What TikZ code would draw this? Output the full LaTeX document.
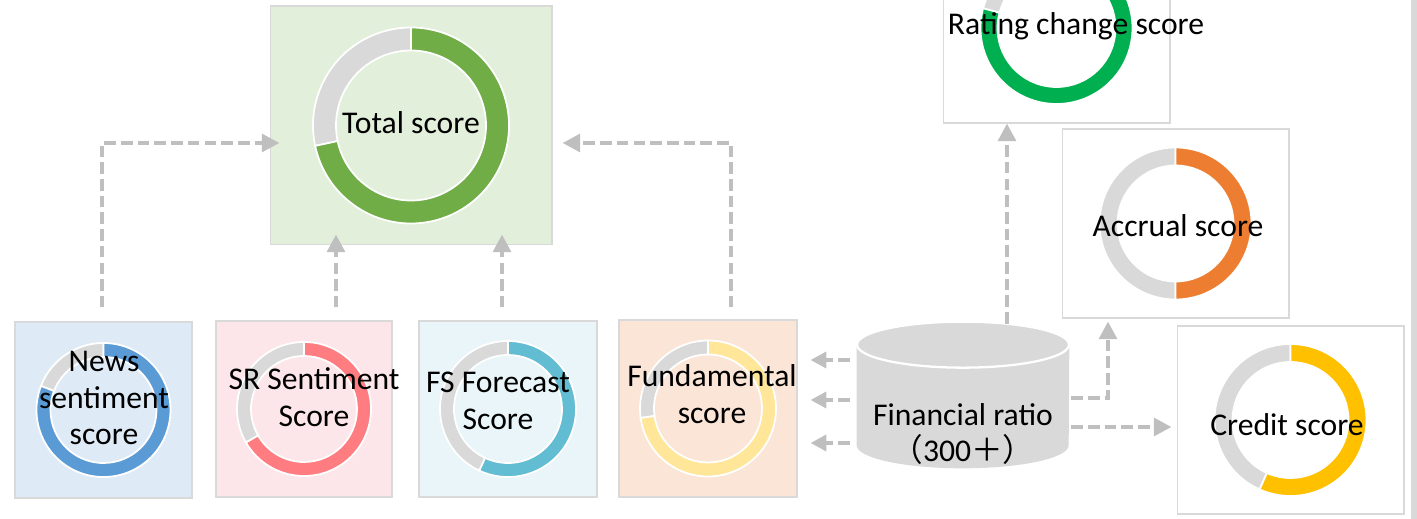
\documentclass[tikz,border=0pt]{standalone}
\usepackage{fontspec}
\setmainfont{Carlito}
\newfontfamily\cjk{Noto Sans CJK SC}
\usetikzlibrary{calc,arrows.meta,positioning}
\definecolor{ringgray}{HTML}{D9D9D9}
\definecolor{flowgray}{HTML}{BFBFBF}
\definecolor{boxline}{HTML}{D9D9D9}
\definecolor{totalbg}{HTML}{E2EFDA}
\definecolor{newsbg}{HTML}{DEEBF7}
\definecolor{srbg}{HTML}{FDE6E9}
\definecolor{fcstbg}{HTML}{E9F5F8}
\definecolor{fundbg}{HTML}{FBE5D6}
\definecolor{totalfg}{HTML}{70AD47}
\definecolor{newsfg}{HTML}{5B9BD5}
\definecolor{srfg}{HTML}{FF7C80}
\definecolor{fcstfg}{HTML}{62BDD3}
\definecolor{fundfg}{HTML}{FFE699}
\definecolor{ratingfg}{HTML}{00B050}
\definecolor{accrualfg}{HTML}{ED7D31}
\definecolor{creditfg}{HTML}{FFC000}
\def\ring[#1](#2)(#3:#4:#5:#6){\draw[#1] ($(#2)+(#3:#6)$) arc (#3:#4:#6) -- ($(#2)+(#4:#5)$) arc (#4:#3:#5) -- cycle;}
\tikzset{
  scorebox/.style={draw=boxline, line width=0.6pt, inner sep=0pt},
  seg/.style={draw=white, line width=1pt},
  lbl/.style={align=center, inner sep=0pt, font=\fontsize{18}{21}\selectfont},
  flow/.style={draw=flowgray, line width=2.3pt, dash pattern=on 6.6pt off 2.9pt, -{Triangle[length=10pt,width=10pt]}},
}

\begin{document}
\begin{tikzpicture}[x=0.02cm,y=0.02cm]
			%%%%% START %%%%%
			\useasboundingbox (0,0) rectangle (1417,-519);
			\clip (0,0) rectangle (1417,-519);
			
			\node[scorebox, fill=totalbg, minimum width=5.64cm, minimum height=4.78cm] (total) at (411,-125.5) {};
			\node[scorebox, fill=newsbg, minimum width=3.54cm, minimum height=3.52cm] (news) at (103.5,-410) {};
			\node[scorebox, fill=srbg, minimum width=3.52cm, minimum height=3.52cm] (srs) at (304,-409) {};
			\node[scorebox, fill=fcstbg, minimum width=3.56cm, minimum height=3.52cm] (fcst) at (508,-409) {};
			\node[scorebox, fill=fundbg, minimum width=3.56cm, minimum height=3.54cm] (fund) at (708,-408.5) {};
			\node[scorebox, fill=white, minimum width=4.54cm, minimum height=3.8cm] (rating) at (1056.5,-28) {};
			\node[scorebox, fill=white, minimum width=4.54cm, minimum height=3.78cm] (accrual) at (1175.5,-223.5) {};
			\node[scorebox, fill=white, minimum width=4.54cm, minimum height=3.76cm] (credit) at (1290.5,-420) {};
			
			\fill[ringgray] (1411,0) rectangle (1417,-519);
			
			\ring[seg, fill=ringgray](total)(90:192:75:98)
			\ring[seg, fill=totalfg](total)(192:450:75:98)
			\ring[seg, fill=ringgray](news)(90:159:53:67)
			\ring[seg, fill=newsfg](news)(159:450:53:67)
			\ring[seg, fill=ringgray](srs)(90:210:53:67)
			\ring[seg, fill=srfg](srs)(210:450:53:67)
			\ring[seg, fill=ringgray](fcst)(90:245:54:68)
			\ring[seg, fill=fcstfg](fcst)(245:450:54:68)
			\ring[seg, fill=ringgray](fund)(90:188:54:68)
			\ring[seg, fill=fundfg](fund)(188:450:54:68)
			\ring[seg, fill=ringgray](rating)(90:165:59:76)
			\ring[seg, fill=ratingfg](rating)(165:450:59:76)
			\ring[seg, fill=ringgray](accrual)(90:270:58:76)
			\ring[seg, fill=accrualfg](accrual)(270:450:58:76)
			\ring[seg, fill=ringgray](credit)(90:246:58:76)
			\ring[seg, fill=creditfg](credit)(246:450:58:76)
			
			\node[minimum width=4.24cm, minimum height=2.92cm, inner sep=0pt] (ratio) at (963,-395) {};
			\fill[ringgray] ($(ratio.north west)+(0,-23)$) -- ($(ratio.south west)+(0,23)$) arc (180:360:106 and 23) -- ($(ratio.north east)+(0,-23)$) -- cycle;
			\draw[seg, fill=ringgray, line width=1.3pt] ($(ratio.north)+(0,-23)$) ellipse (106 and 23);
			
			\node[lbl] (totallbl) at (411,-123) {Total score};
			\node[lbl] (newslbl) at (104,-398) {News\\sentiment\\score};
			\node[lbl] (srlbl) at (314,-397) {SR Sentiment\\Score};
			\node[lbl] (fcstlbl) at (498,-401) {FS Forecast\\Score};
			\node[lbl] (fundlbl) at (712,-394) {Fundamental\\score};
			\node[lbl] (ratinglbl) at (1076,-26) {Rating change score};
			\node[lbl] (accruallbl) at (1178,-226) {Accrual score};
			\node[lbl] (creditlbl) at (1287,-425) {Credit score};
			\node[lbl] (ratiolbl) at (963,-434) {Financial ratio\\{\cjk （}300{\cjk ＋）}};
			
			\coordinate (totl) at ([xshift=0.2cm,yshift=-0.35cm]total.west);
			\coordinate (totr) at ([xshift=0.2cm,yshift=-0.35cm]total.east);
			\coordinate (totb) at ([yshift=0.22cm]total.south);
			\draw[flow] ([xshift=-0.03cm,yshift=0.28cm]news.north) |- (totl);
			\draw[flow] ([xshift=0.46cm,yshift=0.24cm]fund.north) |- (totr);
			\coordinate (srout) at ([xshift=0.64cm,yshift=0.26cm]srs.north);
			\draw[flow] (srout) -- (srout |- totb);
			\coordinate (fcout) at ([xshift=-0.12cm,yshift=0.26cm]fcst.north);
			\draw[flow] (fcout) -- (fcout |- totb);
			
			\coordinate (fundin) at ([xshift=0.26cm]fund.east);
			\foreach \dy in {0.7,-0.1,-0.96}{
				\coordinate (lsrc) at ([xshift=-0.14cm,yshift=\dy cm]ratio.west);
				\draw[flow, -{Triangle[length=9pt,width=9pt]}] (lsrc) -- (lsrc -| fundin);
			}
			
			\coordinate (rup) at ([xshift=0.88cm,yshift=-0.04cm]ratio.north);
			\draw[flow] (rup) -- (rup |- rating.south);
			\coordinate (acin) at ([xshift=-1.35cm,yshift=-0.06cm]accrual.south);
			\draw[flow] ([xshift=0.04cm,yshift=-0.06cm]ratio.east) -| (acin);
			\coordinate (crsrc) at ([xshift=0.04cm,yshift=-0.64cm]ratio.east);
			\coordinate (crin) at ([xshift=-0.1cm]credit.west);
			\draw[flow] (crsrc) -- (crsrc -| crin);
			
			%%%%% END %%%%%
\end{tikzpicture}
\end{document}
